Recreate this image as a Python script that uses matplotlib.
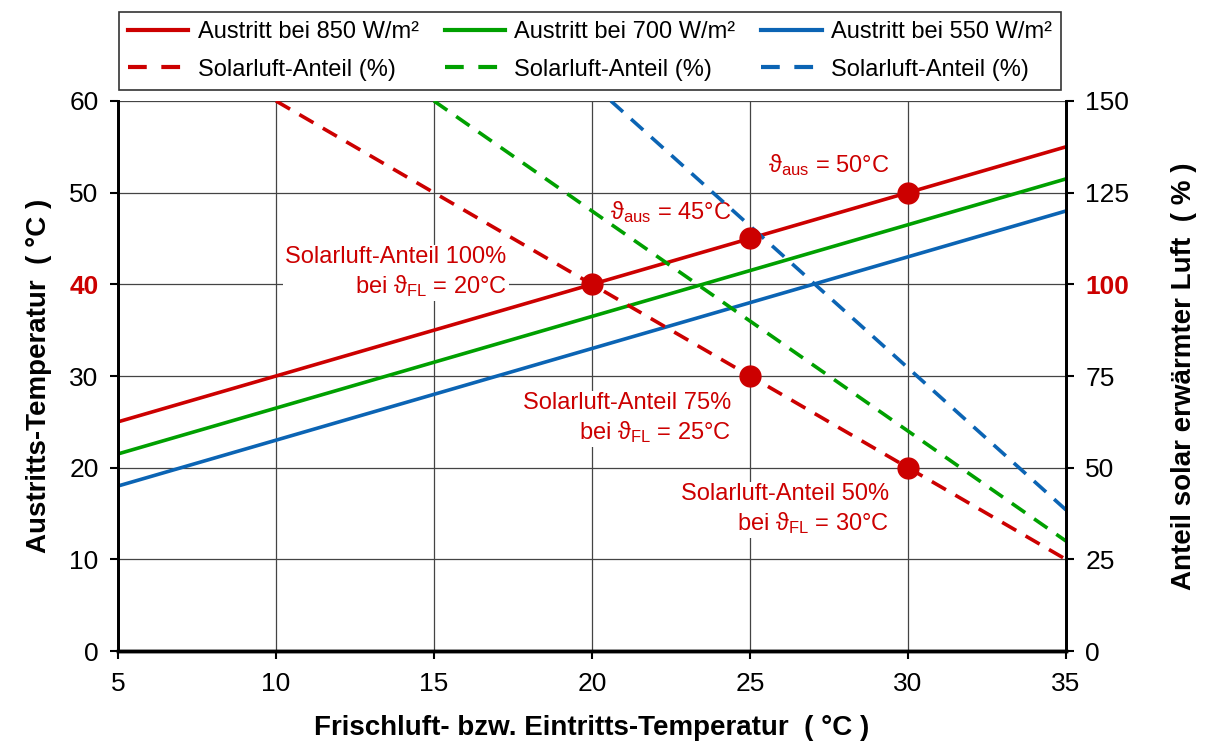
import matplotlib.pyplot as plt
from matplotlib.lines import Line2D

plt.rcParams['font.family'] = ['Liberation Sans', 'DejaVu Sans']
plt.rcParams['mathtext.fontset'] = 'custom'
plt.rcParams['mathtext.rm'] = 'Liberation Sans'
plt.rcParams['mathtext.it'] = 'Liberation Sans:italic'

# Austrittstemperatur über Eintrittstemperatur (°C)
t_ein = [5, 35]
aus_850 = [25, 55]
aus_700 = [21.5, 51.5]
aus_550 = [18, 48]

# Solarluft-Anteil (%) – rechte Achse
anteil_850_x = [10, 35]
anteil_850 = [150, 25]
anteil_700_x = [15.0, 35]
anteil_700 = [150, 30]
anteil_550_x = [20.6, 35]
anteil_550 = [150, 38.5]

# markierte Punkte (°C)
punkt_x = [20, 25, 30, 25, 30]
punkt_y = [40, 45, 50, 30, 20]

rot = '#cc0000'
gruen = '#00a000'
blau = '#0b64b4'

fig = plt.figure(figsize=(12.05, 7.42), dpi=100)
ax = fig.add_axes([0.0979, 0.1226, 0.7867, 0.7413])
ax2 = ax.twinx()

ax.plot(t_ein, aus_850, color=rot, lw=2.6, zorder=2)
ax.plot(t_ein, aus_700, color=gruen, lw=2.6, zorder=2)
ax.plot(t_ein, aus_550, color=blau, lw=2.6, zorder=2)

dash = (4.5, 3)
ax2.plot(anteil_850_x, anteil_850, color=rot, lw=2.6, dashes=dash, zorder=2)
ax2.plot(anteil_700_x, anteil_700, color=gruen, lw=2.6, dashes=dash, zorder=2)
ax2.plot(anteil_550_x, anteil_550, color=blau, lw=2.6, dashes=dash, zorder=2)
ax2.plot(punkt_x, punkt_y, 'o', color=rot, ms=15, transform=ax.transData, zorder=3)

# Beschriftungen mit weißem Hintergrund über dem Gitter
box = dict(facecolor='white', edgecolor='none', pad=1.5)
txt = dict(color=rot, fontsize=17, transform=ax.transData, zorder=1, bbox=box,
           linespacing=1.25)
ax2.text(29.4, 53.0, r'ϑ$_{\mathrm{aus}}$ = 50°C', ha='right', va='center', **txt)
ax2.text(24.4, 47.9, r'ϑ$_{\mathrm{aus}}$ = 45°C', ha='right', va='center', **txt)
ax2.text(17.3, 41.3, 'Solarluft-Anteil 100%\n' + r'bei ϑ$_{\mathrm{FL}}$ = 20°C',
         ha='right', va='center', multialignment='right', **txt)
ax2.text(24.4, 25.4, 'Solarluft-Anteil 75%\n' + r'bei ϑ$_{\mathrm{FL}}$ = 25°C',
         ha='right', va='center', multialignment='right', **txt)
ax2.text(29.4, 15.4, 'Solarluft-Anteil 50%\n' + r'bei ϑ$_{\mathrm{FL}}$ = 30°C',
         ha='right', va='center', multialignment='right', **txt)

ax.set_xlim(5, 35)
ax.set_ylim(0, 60)
ax2.set_ylim(0, 150)
ax.set_xticks(range(5, 36, 5))
ax.set_yticks(range(0, 61, 10))
ax2.set_yticks(range(0, 151, 25))

ax.grid(True, color='#444444', lw=0.9)
ax.set_axisbelow(True)

for a in (ax, ax2):
    a.tick_params(labelsize=19, length=6, width=1.5, direction='out',
                  color='black', pad=8)
    a.spines['top'].set_visible(False)
    a.spines['left'].set_linewidth(2)
    a.spines['right'].set_linewidth(2)
    a.spines['bottom'].set_linewidth(2.5)
ax.tick_params(axis='x', pad=9)

for lbl in ax.get_yticklabels():
    if lbl.get_text() == '40':
        lbl.set_color(rot)
        lbl.set_fontweight('bold')
for lbl in ax2.get_yticklabels():
    if lbl.get_text() == '100':
        lbl.set_color(rot)
        lbl.set_fontweight('bold')

ax.set_xlabel('Frischluft- bzw. Eintritts-Temperatur  ( °C )', fontsize=20,
              fontweight='bold', labelpad=14)
ax.set_ylabel('Austritts-Temperatur  ( °C )', fontsize=20, fontweight='bold',
              labelpad=12)
ax2.set_ylabel('Anteil solar erwärmter Luft  ( % )', fontsize=20,
               fontweight='bold', labelpad=30)

handles = [
    Line2D([], [], color=rot, lw=3),
    Line2D([], [], color=rot, lw=3, dashes=(4.5, 3.5)),
    Line2D([], [], color=gruen, lw=3),
    Line2D([], [], color=gruen, lw=3, dashes=(4.5, 3.5)),
    Line2D([], [], color=blau, lw=3),
    Line2D([], [], color=blau, lw=3, dashes=(4.5, 3.5)),
]
labels = ['Austritt bei 850 W/m²', 'Solarluft-Anteil (%)',
          'Austritt bei 700 W/m²', 'Solarluft-Anteil (%)',
          'Austritt bei 550 W/m²', 'Solarluft-Anteil (%)']
leg = fig.legend(handles, labels, ncol=3, loc='upper center',
                 bbox_to_anchor=(0.4896, 0.984), borderaxespad=0,
                 fontsize=17, frameon=True, fancybox=False, edgecolor='black',
                 handlelength=2.55, handletextpad=0.4, columnspacing=1.1,
                 labelspacing=0.65, borderpad=0.4)
leg.get_frame().set_linewidth(1.2)

fig.savefig('out.png', dpi=100)
